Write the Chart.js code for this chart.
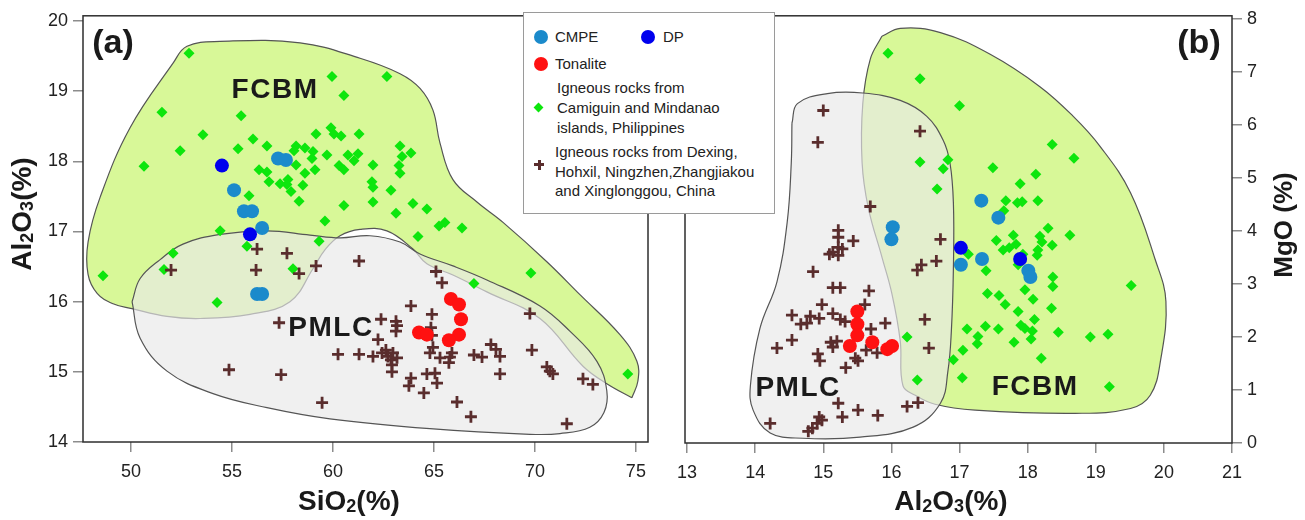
<!DOCTYPE html>
<html>
<head>
<meta charset="utf-8">
<script src="https://cdn.jsdelivr.net/npm/chart.js@4.4.1/dist/chart.umd.min.js"></script>
<style>
html,body{margin:0;padding:0;background:#fff;}
#wrap{position:relative;width:1305px;height:520px;overflow:hidden;font-family:"Liberation Sans",Arial,sans-serif;}
#ca{position:absolute;left:0;top:0;}
#cb{position:absolute;left:660px;top:0;}
#legend{position:absolute;left:523px;top:12px;width:252px;height:202px;border:1px solid #9a9a9a;background:#fff;box-sizing:border-box;color:#222;font-size:15px;}
#legend .m{position:absolute;}
#legend .dot{width:14px;height:14px;border-radius:50%;}
#legend .dia{width:7px;height:7px;transform:rotate(45deg);background:#0de60d;}
#legend .t{position:absolute;line-height:20px;white-space:nowrap;}
</style>
</head>
<body>
<div id="wrap">
<canvas id="ca" width="660" height="520"></canvas>
<canvas id="cb" width="645" height="520"></canvas>
<div id="legend"></div>
</div>
<script>
// ---------------- DATA ----------------
// Panel (a): SiO2 (x) vs Al2O3 (y)
const xTicksA = [50, 55, 60, 65, 70, 75];
const yTicksA = [14, 15, 16, 17, 18, 19, 20];
// Panel (b): Al2O3 (x) vs MgO (y)
const xTicksB = [13, 14, 15, 16, 17, 18, 19, 20, 21];
const yTicksB = [0, 1, 2, 3, 4, 5, 6, 7, 8];

const legendLabels = ["CMPE", "DP", "Tonalite",
  "Igneous rocks from\nCamiguin and Mindanao\nislands, Philippines",
  "Igneous rocks from Dexing,\nHohxil, Ningzhen,Zhangjiakou\nand Xinglonggou, China"];

const titleXA = [["SiO", 0], ["2", 1], ["(%)", 0]];
const titleYA = [["Al", 0], ["2", 1], ["O", 0], ["3", 1], ["(%)", 0]];
const titleXB = [["Al", 0], ["2", 1], ["O", 0], ["3", 1], ["(%)", 0]];
const titleYB = [["MgO (%)", 0]];

const cmpeA = [[55.10,17.59],[55.59,17.29],[55.99,17.29],[57.28,18.04],[57.67,18.02],[56.49,17.05],[56.24,16.11],[56.49,16.11]];
const dpA = [[54.50,17.94],[55.89,16.96]];
const tonaliteA = [[65.84,16.04],[66.24,15.96],[66.34,15.75],[66.24,15.53],[65.74,15.45],[64.26,15.56],[64.65,15.53]];
const philippinesA = [[52.87,19.54],[51.53,18.70],[55.45,18.65],[53.56,18.38],[52.43,18.15],[50.64,17.93],[55.30,18.18],[56.04,18.32],[56.73,18.22],[55.84,17.51],[54.41,17.01],[55.74,16.79],[52.08,16.69],[59.60,17.15],[59.31,16.86],[59.95,19.21],[62.67,19.21],[60.54,18.94],[59.16,18.39],[59.90,18.48],[60.05,18.39],[60.40,18.36],[61.29,18.39],[58.17,18.22],[58.61,18.19],[59.01,18.14],[58.07,18.15],[58.96,18.04],[59.70,18.09],[60.74,18.09],[61.24,18.11],[61.04,18.01],[60.30,17.94],[60.54,17.88],[61.98,17.95],[63.32,18.22],[63.42,18.07],[63.86,18.12],[63.27,17.94],[63.32,17.83],[58.17,17.95],[58.61,17.83],[59.11,17.88],[56.34,17.88],[56.73,17.85],[56.83,17.71],[57.38,17.68],[57.77,17.74],[57.72,17.67],[58.51,17.66],[57.92,17.57],[58.32,17.43],[61.93,17.71],[61.98,17.63],[62.87,17.59],[61.98,17.42],[60.54,17.37],[63.12,17.26],[63.96,17.40],[64.65,17.32],[65.25,17.08],[65.54,17.13],[66.39,17.05],[64.21,16.93],[58.02,16.47],[51.63,16.46],[48.61,16.37],[54.26,15.99],[69.80,16.41],[66.98,16.26],[74.60,14.97]];
const chinaA = [[51.98,16.45],[56.24,16.75],[57.72,16.69],[56.19,16.45],[58.32,16.40],[59.16,16.51],[61.29,16.58],[65.10,16.43],[65.40,16.27],[63.86,15.94],[57.33,15.70],[62.38,15.75],[63.12,15.72],[63.17,15.66],[63.12,15.58],[64.90,15.82],[64.85,15.63],[62.23,15.46],[64.90,15.52],[64.95,15.35],[64.80,15.27],[65.30,15.20],[65.79,15.21],[65.89,15.27],[65.74,15.13],[60.25,15.25],[61.29,15.25],[61.98,15.22],[62.43,15.27],[62.62,15.31],[62.72,15.22],[62.87,15.17],[62.97,15.27],[63.17,15.20],[62.92,15.10],[62.92,15.00],[54.85,15.03],[57.43,14.96],[59.46,14.56],[63.86,14.91],[63.76,14.80],[64.50,14.70],[64.65,14.97],[65.05,14.98],[65.15,14.84],[66.14,14.57],[66.83,14.36],[66.98,15.24],[67.38,15.21],[67.82,15.39],[68.07,15.32],[68.27,15.22],[68.27,14.97],[69.75,15.83],[69.85,15.31],[70.59,15.07],[70.74,15.01],[70.89,14.97],[72.38,14.90],[72.87,14.82],[71.58,14.26]];
const fcbmA = [[74.80,14.63],[73.56,14.83],[72.38,15.08],[70.25,15.76],[67.62,16.14],[65.94,16.38],[64.65,16.54],[63.96,16.75],[62.67,17.01],[61.34,17.03],[60.35,16.94],[59.60,16.74],[59.01,16.47],[57.87,16.00],[55.89,15.82],[53.42,15.76],[51.78,15.79],[50.05,15.90],[49.11,15.97],[48.32,16.12],[47.87,16.39],[47.87,16.85],[48.47,17.49],[49.95,18.48],[52.08,19.40],[52.77,19.64],[54.41,19.71],[58.37,19.69],[61.34,19.47],[63.32,19.25],[64.31,19.04],[64.95,18.73],[65.30,18.26],[65.94,17.74],[67.13,17.42],[68.42,17.13],[70.59,16.57],[72.23,16.10],[74.21,15.53],[75.05,15.15],[75.10,14.87]];
const pmlcA = [[50.05,16.00],[50.45,16.33],[51.44,16.60],[52.57,16.82],[54.41,16.96],[56.73,17.01],[58.86,16.95],[60.35,16.91],[61.83,16.94],[63.32,16.85],[64.31,16.68],[65.94,16.51],[67.62,16.31],[70.25,15.94],[71.73,15.58],[73.07,15.15],[73.56,14.73],[73.42,14.42],[72.72,14.21],[71.24,14.12],[69.75,14.11],[64.80,14.19],[59.85,14.33],[56.73,14.49],[54.06,14.69],[51.78,15.01],[50.45,15.48]];

const cmpeB = [[17.32,4.57],[17.57,4.25],[16.02,4.07],[16.00,3.84],[17.02,3.36],[17.33,3.47],[18.01,3.25],[18.04,3.13]];
const dpB = [[17.02,3.68],[17.89,3.47]];
const tonaliteB = [[15.50,2.48],[15.50,2.24],[15.50,2.03],[15.39,1.83],[15.72,1.90],[15.94,1.77],[16.01,1.83]];
const philippinesB = [[15.95,7.35],[16.42,6.87],[17.00,6.36],[16.42,5.30],[16.83,5.34],[16.76,5.17],[16.67,4.79],[18.36,5.63],[18.68,5.37],[17.49,5.19],[18.12,5.07],[17.89,4.89],[18.15,4.57],[17.68,4.57],[17.85,4.53],[17.92,4.55],[17.65,4.38],[18.30,4.05],[18.62,3.92],[17.54,3.82],[17.79,3.92],[17.83,3.75],[17.64,3.64],[17.73,3.68],[18.18,3.90],[18.21,3.79],[18.36,3.73],[18.15,3.64],[18.14,3.54],[17.93,3.56],[17.13,3.56],[17.39,3.25],[17.86,3.36],[18.37,3.13],[18.37,2.95],[19.52,2.97],[17.96,2.89],[17.41,2.82],[17.58,2.78],[18.08,2.71],[17.67,2.61],[17.86,2.48],[18.35,2.54],[18.10,2.33],[17.38,2.20],[17.57,2.15],[17.90,2.22],[17.96,2.16],[18.07,2.11],[18.05,1.96],[17.80,1.90],[18.45,2.09],[18.92,2.00],[19.18,2.05],[18.20,1.60],[19.20,1.06],[17.27,2.01],[17.26,1.87],[16.23,2.00],[16.38,1.19],[16.91,1.57],[17.04,1.23],[17.05,1.75],[17.11,2.15]];
const chinaB = [[15.00,6.27],[14.92,5.67],[16.42,5.88],[15.69,4.46],[15.22,4.01],[15.22,3.88],[15.44,3.81],[15.22,3.69],[15.14,3.60],[15.28,3.66],[15.09,3.56],[15.22,3.54],[16.72,3.84],[16.66,3.43],[16.44,3.36],[16.38,3.26],[14.85,3.23],[15.14,2.93],[15.25,2.93],[15.67,2.87],[14.98,2.61],[15.61,2.61],[14.54,2.41],[14.81,2.39],[14.94,2.35],[15.14,2.44],[15.25,2.33],[15.32,2.29],[14.67,2.24],[14.76,2.26],[15.91,2.26],[15.70,2.15],[14.54,1.94],[14.32,1.79],[15.11,1.90],[15.20,1.92],[15.14,1.81],[14.92,1.68],[14.95,1.55],[15.47,1.60],[15.51,1.55],[15.33,1.42],[15.63,1.75],[15.79,1.70],[16.49,2.33],[16.55,1.79],[15.22,0.75],[15.51,0.62],[15.28,0.49],[15.80,0.52],[16.23,0.69],[16.39,0.76],[14.22,0.37],[14.94,0.49],[14.98,0.43],[14.91,0.37],[14.84,0.28],[14.78,0.22]];
const fcbmB = [[15.86,7.67],[16.13,7.82],[16.72,7.74],[17.45,7.33],[18.18,6.72],[18.67,6.16],[19.06,5.60],[19.51,4.72],[19.87,3.47],[20.03,2.67],[19.95,1.55],[19.80,0.90],[19.51,0.65],[18.70,0.56],[17.23,0.62],[16.64,0.73],[16.35,0.90],[16.17,1.08],[16.13,1.92],[16.01,2.80],[15.86,3.51],[15.66,4.44],[15.57,5.28],[15.58,6.40],[15.69,7.24]];
const pmlcB = [[14.54,6.03],[14.62,6.40],[15.06,6.59],[15.58,6.60],[16.13,6.46],[16.52,6.16],[16.76,5.71],[16.86,5.28],[16.91,4.53],[16.91,3.28],[16.88,2.11],[16.83,1.36],[16.72,0.75],[16.32,0.30],[15.54,0.11],[14.70,0.09],[14.22,0.19],[13.97,0.62],[13.93,1.08],[14.07,2.16],[14.32,3.04],[14.47,4.16],[14.53,5.28]];

const regionLabelsA = [["FCBM", 57.13, 19.01], ["PMLC", 59.90, 15.62]];
const regionLabelsB = [["PMLC", 14.63, 1.03], ["FCBM", 18.11, 1.06]];

// ---------------- STYLE ----------------
const FONT = '"Liberation Sans", Arial, Helvetica, sans-serif';
const C = {
  cmpe: '#1b8acb', dp: '#0000ee', ton: '#ff1111', ph: '#0de60d', cn: '#5a2d2d',
  fcbm: 'rgb(216,248,152)', pmlc: 'rgba(232,232,232,0.66)', edge: '#555555'
};

const P = a => a.map(p => ({x: p[0], y: p[1]}));
const closed = a => P(a.concat([a[0]]));

function region(arr, fillColor, order) {
  return {data: closed(arr), showLine: true, fill: 'shape', backgroundColor: fillColor,
    borderColor: C.edge, borderWidth: 1.2, pointRadius: 0, tension: 0.4, order: order};
}
function dots(arr, color, order) {
  return {data: P(arr), pointStyle: 'circle', pointRadius: 7, backgroundColor: color,
    borderColor: color, borderWidth: 0, order: order};
}
function datasets(fc, pm, ph, cn, cm, dp, to) {
  return [
    region(fc, C.fcbm, 10),
    region(pm, C.pmlc, 9),
    {data: P(ph), pointStyle: 'rectRot', pointRadius: 5.5, backgroundColor: C.ph, borderColor: C.ph, borderWidth: 0, order: 5},
    {data: P(cn), pointStyle: 'cross', pointRadius: 6, backgroundColor: C.cn, borderColor: C.cn, borderWidth: 2.8, order: 4},
    dots(cm, C.cmpe, 3),
    dots(dp, C.dp, 2),
    dots(to, C.ton, 1)
  ];
}

function drawTitle(ctx, parts, cx, cy, size, rotate) {
  ctx.save();
  ctx.translate(cx, cy);
  if (rotate) ctx.rotate(-Math.PI / 2);
  const f = s => `bold ${s ? Math.round(size * 0.64) : size}px ${FONT}`;
  let w = 0;
  for (const [t, s] of parts) { ctx.font = f(s); w += ctx.measureText(t).width; }
  let x = -w / 2;
  ctx.textAlign = 'left'; ctx.textBaseline = 'alphabetic'; ctx.fillStyle = '#1a1a1a';
  for (const [t, s] of parts) { ctx.font = f(s); ctx.fillText(t, x, s ? size * 0.08 : 0); x += ctx.measureText(t).width; }
  ctx.restore();
}

function makeDecor(cfg) {
  return {
    id: 'decor_' + cfg.panel,
    afterDraw(chart) {
      const {ctx, chartArea: a, scales} = chart;
      ctx.save();
      ctx.strokeStyle = '#2e2e2e'; ctx.lineWidth = 1.5;
      ctx.strokeRect(a.left, a.top, a.right - a.left, a.bottom - a.top);
      ctx.fillStyle = '#1a1a1a'; ctx.textAlign = 'center'; ctx.textBaseline = 'middle';
      ctx.font = `bold 28px ${FONT}`;
      ctx.letterSpacing = '1.5px';
      for (const [t, x, y] of cfg.labels) ctx.fillText(t, scales.x.getPixelForValue(x), scales.y.getPixelForValue(y));
      ctx.letterSpacing = '0px';
      ctx.font = `bold 34px ${FONT}`;
      ctx.fillText(cfg.panel, cfg.panelRight ? a.right - 33 : a.left + 30, a.top + 28);
      drawTitle(ctx, cfg.xTitle, cfg.xTitlePos[0], cfg.xTitlePos[1], 28, false);
      drawTitle(ctx, cfg.yTitle, cfg.yTitlePos[0], cfg.yTitlePos[1], cfg.yTitleSize, true);
      ctx.restore();
    }
  };
}

function axis(min, max, ticks, extra, pad) {
  return Object.assign({
    type: 'linear', min: min, max: max,
    afterBuildTicks: s => { s.ticks = ticks.map(v => ({value: v})); },
    grid: {display: true, drawOnChartArea: false, drawTicks: true, tickLength: 10, color: '#8c8c8c', lineWidth: 1.5},
    border: {display: false},
    ticks: {color: '#222', font: {family: FONT, size: 18}, padding: pad, autoSkip: false, maxRotation: 0}
  }, extra);
}

const base = {
  responsive: false, animation: false, devicePixelRatio: 1, events: [],
  plugins: {legend: {display: false}, tooltip: {enabled: false}}
};

new Chart(document.getElementById('ca'), {
  type: 'scatter',
  data: {datasets: datasets(fcbmA, pmlcA, philippinesA, chinaA, cmpeA, dpA, tonaliteA)},
  options: Object.assign({}, base, {
    layout: {padding: {top: 12, right: 12, left: 0, bottom: 0}},
    scales: {
      x: axis(47.62, 75.6, xTicksA, {afterFit: s => { s.height = 78; }}, 9),
      y: axis(14, 20.075, yTicksA, {afterFit: s => { s.width = 83; }}, 5)
    }
  }),
  plugins: [makeDecor({panel: '(a)', panelRight: false, labels: regionLabelsA,
    xTitle: titleXA, xTitlePos: [349, 510], yTitle: titleYA, yTitlePos: [31, 214], yTitleSize: 28})]
});

new Chart(document.getElementById('cb'), {
  type: 'scatter',
  data: {datasets: datasets(fcbmB, pmlcB, philippinesB, chinaB, cmpeB, dpB, tonaliteB)},
  options: Object.assign({}, base, {
    layout: {padding: {top: 11, right: 0, left: 25, bottom: 0}},
    scales: {
      x: axis(12.97, 21, xTicksB, {afterFit: s => { s.height = 77; }}, 9),
      y: axis(0, 8.056, yTicksB, {position: 'right', afterFit: s => { s.width = 73; }}, 5)
    }
  }),
  plugins: [makeDecor({panel: '(b)', panelRight: true, labels: regionLabelsB,
    xTitle: titleXB, xTitlePos: [291, 510], yTitle: titleYB, yTitlePos: [632, 225], yTitleSize: 26})]
});

// ---------------- LEGEND (HTML overlay) ----------------
(function () {
  const L = document.getElementById('legend');
  const add = (html) => L.insertAdjacentHTML('beforeend', html);
  const txt = (s) => s.split('\n').join('<br>');
  add(`<div class="m dot" style="left:10px;top:17px;background:${C.cmpe}"></div>`);
  add(`<div class="t" style="left:31px;top:14px">${legendLabels[0]}</div>`);
  add(`<div class="m dot" style="left:117px;top:17px;background:${C.dp}"></div>`);
  add(`<div class="t" style="left:139px;top:14px">${legendLabels[1]}</div>`);
  add(`<div class="m dot" style="left:10px;top:44px;background:${C.ton}"></div>`);
  add(`<div class="t" style="left:31px;top:41px">${legendLabels[2]}</div>`);
  add(`<div class="m dia" style="left:11px;top:91px"></div>`);
  add(`<div class="t" style="left:33px;top:65px">${txt(legendLabels[3])}</div>`);
  add(`<div class="m" style="left:10px;top:150px;width:10px;height:3px;background:${C.cn}"></div>`);
  add(`<div class="m" style="left:13.5px;top:146.5px;width:3px;height:10px;background:${C.cn}"></div>`);
  add(`<div class="t" style="left:31px;top:129px;line-height:19.5px">${txt(legendLabels[4])}</div>`);
})();
</script>
</body>
</html>
